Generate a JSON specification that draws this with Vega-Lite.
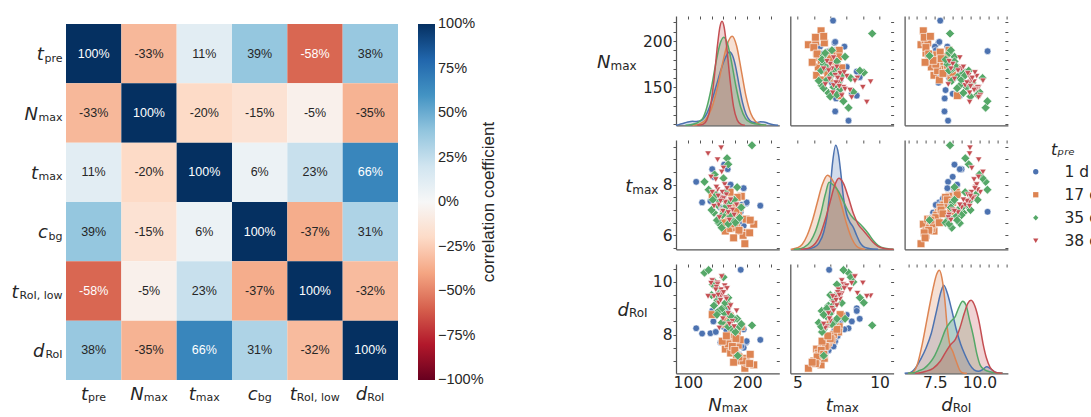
{
  "$schema": "https://vega.github.io/schema/vega-lite/v6.json",
  "background": "white",
  "padding": {"left": 11, "top": 15, "right": 0, "bottom": 0},
  "config": {
    "view": {"stroke": null},
    "locale": {"number": {"decimal": ".", "thousands": ",", "grouping": [3], "currency": ["$", ""], "minus": "-"}},
    "axis": {"grid": false, "labelColor": "#262626", "titleColor": "#262626", "domainColor": "#555555", "tickColor": "#555555", "domainWidth": 1.25, "tickWidth": 1, "labelFont": "DejaVu Sans", "titleFont": "DejaVu Sans", "titleFontWeight": "normal", "labelFlush": false, "labelOverlap": false}
  },
  "datasets": {
    "corr": [
      {"row": "tpre", "col": "tpre", "r": 1}, {"row": "tpre", "col": "Nmax", "r": -0.33}, {"row": "tpre", "col": "tmax", "r": 0.11}, {"row": "tpre", "col": "cbg", "r": 0.39}, {"row": "tpre", "col": "tRoIlow", "r": -0.58}, {"row": "tpre", "col": "dRoI", "r": 0.38},
      {"row": "Nmax", "col": "tpre", "r": -0.33}, {"row": "Nmax", "col": "Nmax", "r": 1}, {"row": "Nmax", "col": "tmax", "r": -0.2}, {"row": "Nmax", "col": "cbg", "r": -0.15}, {"row": "Nmax", "col": "tRoIlow", "r": -0.05}, {"row": "Nmax", "col": "dRoI", "r": -0.35},
      {"row": "tmax", "col": "tpre", "r": 0.11}, {"row": "tmax", "col": "Nmax", "r": -0.2}, {"row": "tmax", "col": "tmax", "r": 1}, {"row": "tmax", "col": "cbg", "r": 0.06}, {"row": "tmax", "col": "tRoIlow", "r": 0.23}, {"row": "tmax", "col": "dRoI", "r": 0.66},
      {"row": "cbg", "col": "tpre", "r": 0.39}, {"row": "cbg", "col": "Nmax", "r": -0.15}, {"row": "cbg", "col": "tmax", "r": 0.06}, {"row": "cbg", "col": "cbg", "r": 1}, {"row": "cbg", "col": "tRoIlow", "r": -0.37}, {"row": "cbg", "col": "dRoI", "r": 0.31},
      {"row": "tRoIlow", "col": "tpre", "r": -0.58}, {"row": "tRoIlow", "col": "Nmax", "r": -0.05}, {"row": "tRoIlow", "col": "tmax", "r": 0.23}, {"row": "tRoIlow", "col": "cbg", "r": -0.37}, {"row": "tRoIlow", "col": "tRoIlow", "r": 1}, {"row": "tRoIlow", "col": "dRoI", "r": -0.32},
      {"row": "dRoI", "col": "tpre", "r": 0.38}, {"row": "dRoI", "col": "Nmax", "r": -0.35}, {"row": "dRoI", "col": "tmax", "r": 0.66}, {"row": "dRoI", "col": "cbg", "r": 0.31}, {"row": "dRoI", "col": "tRoIlow", "r": -0.32}, {"row": "dRoI", "col": "dRoI", "r": 1}
    ],
    "pts": [
      {"g": "1 d", "N": 222, "t": 7.17, "d": 7.8}, {"g": "1 d", "N": 114, "t": 8.11, "d": 8.24}, {"g": "1 d", "N": 189, "t": 6.93, "d": 10.46}, {"g": "1 d", "N": 198, "t": 7.26, "d": 7.7}, {"g": "1 d", "N": 199, "t": 7.3, "d": 7.75}, {"g": "1 d", "N": 194, "t": 7.86, "d": 8.2}, {"g": "1 d", "N": 194, "t": 6.38, "d": 7.5}, {"g": "1 d", "N": 167, "t": 8.61, "d": 9.0}, {"g": "1 d", "N": 161, "t": 8.79, "d": 8.6}, {"g": "1 d", "N": 143, "t": 8.31, "d": 8.5}, {"g": "1 d", "N": 141, "t": 8.61, "d": 8.9}, {"g": "1 d", "N": 172, "t": 7.2, "d": 8.0}, {"g": "1 d", "N": 175, "t": 7.4, "d": 8.1}, {"g": "1 d", "N": 168, "t": 7.3, "d": 7.9}, {"g": "1 d", "N": 180, "t": 7.1, "d": 7.85}, {"g": "1 d", "N": 160, "t": 7.5, "d": 8.3}, {"g": "1 d", "N": 124, "t": 7.3, "d": 8.04}, {"g": "1 d", "N": 138, "t": 7.35, "d": 8.05}, {"g": "1 d", "N": 185, "t": 7.15, "d": 7.6}, {"g": "1 d", "N": 176, "t": 6.9, "d": 7.4}, {"g": "1 d", "N": 165, "t": 7.25, "d": 8.15}, {"g": "1 d", "N": 158, "t": 7.6, "d": 8.45}, {"g": "1 d", "N": 183, "t": 7.45, "d": 7.95}, {"g": "1 d", "N": 170, "t": 7.8, "d": 8.6}, {"g": "1 d", "N": 178, "t": 6.7, "d": 7.3}, {"g": "1 d", "N": 155, "t": 7.1, "d": 7.7}, {"g": "1 d", "N": 190, "t": 7.2, "d": 7.55}, {"g": "1 d", "N": 147, "t": 7.45, "d": 8.1}, {"g": "1 d", "N": 163, "t": 6.85, "d": 7.8}, {"g": "1 d", "N": 186, "t": 6.5, "d": 7.25}, {"g": "1 d", "N": 172, "t": 8.0, "d": 8.75},
      {"g": "17 d", "N": 211, "t": 6.44, "d": 6.85}, {"g": "17 d", "N": 196, "t": 5.67, "d": 6.72}, {"g": "17 d", "N": 199, "t": 6.11, "d": 6.95}, {"g": "17 d", "N": 198, "t": 6.64, "d": 7.1}, {"g": "17 d", "N": 187, "t": 6.17, "d": 7.0}, {"g": "17 d", "N": 190, "t": 7.54, "d": 8.3}, {"g": "17 d", "N": 183, "t": 7.5, "d": 8.1}, {"g": "17 d", "N": 163, "t": 6.17, "d": 7.45}, {"g": "17 d", "N": 172, "t": 6.27, "d": 7.3}, {"g": "17 d", "N": 180, "t": 6.5, "d": 7.5}, {"g": "17 d", "N": 176, "t": 6.9, "d": 7.7}, {"g": "17 d", "N": 185, "t": 6.8, "d": 7.6}, {"g": "17 d", "N": 170, "t": 7.0, "d": 7.9}, {"g": "17 d", "N": 178, "t": 7.2, "d": 8.0}, {"g": "17 d", "N": 168, "t": 6.6, "d": 7.65}, {"g": "17 d", "N": 182, "t": 6.3, "d": 7.2}, {"g": "17 d", "N": 174, "t": 7.4, "d": 8.2}, {"g": "17 d", "N": 188, "t": 7.1, "d": 7.8}, {"g": "17 d", "N": 160, "t": 6.95, "d": 8.4}, {"g": "17 d", "N": 193, "t": 6.0, "d": 7.0}, {"g": "17 d", "N": 175, "t": 6.7, "d": 7.55}, {"g": "17 d", "N": 166, "t": 7.3, "d": 8.5}, {"g": "17 d", "N": 179, "t": 6.45, "d": 7.4}, {"g": "17 d", "N": 186, "t": 6.2, "d": 7.15}, {"g": "17 d", "N": 171, "t": 7.7, "d": 8.7}, {"g": "17 d", "N": 204, "t": 6.1, "d": 6.9}, {"g": "17 d", "N": 158, "t": 6.5, "d": 7.75}, {"g": "17 d", "N": 181, "t": 7.0, "d": 7.85}, {"g": "17 d", "N": 177, "t": 5.9, "d": 6.95}, {"g": "17 d", "N": 165, "t": 6.85, "d": 7.95}, {"g": "17 d", "N": 141, "t": 7.6, "d": 8.76}, {"g": "17 d", "N": 205, "t": 6.6, "d": 7.25},
      {"g": "35 d", "N": 208, "t": 9.55, "d": 8.35}, {"g": "35 d", "N": 128, "t": 8.11, "d": 10.35}, {"g": "35 d", "N": 135, "t": 7.8, "d": 10.45}, {"g": "35 d", "N": 166, "t": 9.04, "d": 9.21}, {"g": "35 d", "N": 168, "t": 8.8, "d": 9.4}, {"g": "35 d", "N": 160, "t": 8.25, "d": 10.18}, {"g": "35 d", "N": 152, "t": 6.48, "d": 8.9}, {"g": "35 d", "N": 144, "t": 6.89, "d": 9.1}, {"g": "35 d", "N": 183, "t": 7.9, "d": 8.6}, {"g": "35 d", "N": 184, "t": 6.6, "d": 7.2}, {"g": "35 d", "N": 187, "t": 6.69, "d": 8.3}, {"g": "35 d", "N": 150, "t": 7.2, "d": 9.3}, {"g": "35 d", "N": 155, "t": 7.5, "d": 9.6}, {"g": "35 d", "N": 162, "t": 7.0, "d": 8.8}, {"g": "35 d", "N": 170, "t": 7.3, "d": 8.5}, {"g": "35 d", "N": 158, "t": 6.8, "d": 9.0}, {"g": "35 d", "N": 148, "t": 7.6, "d": 9.8}, {"g": "35 d", "N": 175, "t": 6.6, "d": 8.2}, {"g": "35 d", "N": 165, "t": 7.15, "d": 9.1}, {"g": "35 d", "N": 140, "t": 7.0, "d": 9.5}, {"g": "35 d", "N": 178, "t": 7.4, "d": 8.6}, {"g": "35 d", "N": 157, "t": 6.3, "d": 8.45}, {"g": "35 d", "N": 145, "t": 8.4, "d": 10.0}, {"g": "35 d", "N": 172, "t": 6.75, "d": 8.7}, {"g": "35 d", "N": 153, "t": 7.35, "d": 9.45}, {"g": "35 d", "N": 180, "t": 6.5, "d": 8.1}, {"g": "35 d", "N": 163, "t": 7.7, "d": 9.2}, {"g": "35 d", "N": 149, "t": 6.6, "d": 8.75}, {"g": "35 d", "N": 190, "t": 7.1, "d": 8.4}, {"g": "35 d", "N": 168, "t": 6.45, "d": 8.3}, {"g": "35 d", "N": 142, "t": 7.4, "d": 9.9},
      {"g": "38 d", "N": 156, "t": 9.45, "d": 9.47}, {"g": "38 d", "N": 134, "t": 9.22, "d": 9.45}, {"g": "38 d", "N": 150, "t": 8.98, "d": 9.96}, {"g": "38 d", "N": 160, "t": 8.65, "d": 9.57}, {"g": "38 d", "N": 141, "t": 7.7, "d": 10.05}, {"g": "38 d", "N": 150, "t": 7.8, "d": 9.9}, {"g": "38 d", "N": 156, "t": 7.5, "d": 9.7}, {"g": "38 d", "N": 163, "t": 7.3, "d": 9.4}, {"g": "38 d", "N": 148, "t": 7.9, "d": 9.8}, {"g": "38 d", "N": 170, "t": 7.1, "d": 9.0}, {"g": "38 d", "N": 158, "t": 7.7, "d": 9.55}, {"g": "38 d", "N": 152, "t": 7.2, "d": 9.2}, {"g": "38 d", "N": 165, "t": 7.6, "d": 9.35}, {"g": "38 d", "N": 175, "t": 7.0, "d": 8.5}, {"g": "38 d", "N": 160, "t": 7.45, "d": 9.6}, {"g": "38 d", "N": 147, "t": 8.2, "d": 9.7}, {"g": "38 d", "N": 168, "t": 6.9, "d": 8.8}, {"g": "38 d", "N": 162, "t": 8.0, "d": 9.85}, {"g": "38 d", "N": 155, "t": 7.35, "d": 9.3}, {"g": "38 d", "N": 178, "t": 6.8, "d": 8.3}, {"g": "38 d", "N": 153, "t": 6.7, "d": 8.25}, {"g": "38 d", "N": 172, "t": 7.4, "d": 9.1}, {"g": "38 d", "N": 144, "t": 7.15, "d": 9.45}, {"g": "38 d", "N": 159, "t": 6.95, "d": 8.6}, {"g": "38 d", "N": 166, "t": 7.85, "d": 9.75}, {"g": "38 d", "N": 151, "t": 7.55, "d": 9.5}, {"g": "38 d", "N": 182, "t": 7.2, "d": 8.9}, {"g": "38 d", "N": 139, "t": 8.3, "d": 9.95}, {"g": "38 d", "N": 157, "t": 8.5, "d": 10.2}, {"g": "38 d", "N": 170, "t": 6.6, "d": 8.4}
    ],
    "kde": [
      {"v": "N", "g": "1 d", "x": 80, "h": 0}, {"v": "N", "g": "1 d", "x": 82, "h": 0.3}, {"v": "N", "g": "1 d", "x": 90, "h": 1.5}, {"v": "N", "g": "1 d", "x": 100, "h": 3.3}, {"v": "N", "g": "1 d", "x": 108, "h": 4.0}, {"v": "N", "g": "1 d", "x": 114, "h": 3.8}, {"v": "N", "g": "1 d", "x": 120, "h": 4.2}, {"v": "N", "g": "1 d", "x": 126, "h": 6.5}, {"v": "N", "g": "1 d", "x": 132, "h": 12}, {"v": "N", "g": "1 d", "x": 140, "h": 24}, {"v": "N", "g": "1 d", "x": 148, "h": 40}, {"v": "N", "g": "1 d", "x": 156, "h": 56}, {"v": "N", "g": "1 d", "x": 162, "h": 66}, {"v": "N", "g": "1 d", "x": 166, "h": 71}, {"v": "N", "g": "1 d", "x": 170, "h": 73.6}, {"v": "N", "g": "1 d", "x": 175, "h": 70}, {"v": "N", "g": "1 d", "x": 180, "h": 60}, {"v": "N", "g": "1 d", "x": 186, "h": 41}, {"v": "N", "g": "1 d", "x": 192, "h": 23}, {"v": "N", "g": "1 d", "x": 198, "h": 11}, {"v": "N", "g": "1 d", "x": 204, "h": 5}, {"v": "N", "g": "1 d", "x": 210, "h": 3}, {"v": "N", "g": "1 d", "x": 216, "h": 2.8}, {"v": "N", "g": "1 d", "x": 222, "h": 3.5}, {"v": "N", "g": "1 d", "x": 228, "h": 3.4}, {"v": "N", "g": "1 d", "x": 236, "h": 1.8}, {"v": "N", "g": "1 d", "x": 244, "h": 0.6}, {"v": "N", "g": "1 d", "x": 252, "h": 0},
      {"v": "N", "g": "17 d", "x": 108, "h": 0}, {"v": "N", "g": "17 d", "x": 114, "h": 0.5}, {"v": "N", "g": "17 d", "x": 120, "h": 1.4}, {"v": "N", "g": "17 d", "x": 130, "h": 5.7}, {"v": "N", "g": "17 d", "x": 140, "h": 17}, {"v": "N", "g": "17 d", "x": 150, "h": 38.5}, {"v": "N", "g": "17 d", "x": 158, "h": 60.8}, {"v": "N", "g": "17 d", "x": 166, "h": 80.3}, {"v": "N", "g": "17 d", "x": 174.6, "h": 89}, {"v": "N", "g": "17 d", "x": 182, "h": 79.6}, {"v": "N", "g": "17 d", "x": 190, "h": 54.7}, {"v": "N", "g": "17 d", "x": 198, "h": 28.9}, {"v": "N", "g": "17 d", "x": 206, "h": 11.7}, {"v": "N", "g": "17 d", "x": 214, "h": 3.7}, {"v": "N", "g": "17 d", "x": 222, "h": 0.9}, {"v": "N", "g": "17 d", "x": 232, "h": 0},
      {"v": "N", "g": "35 d", "x": 96, "h": 0}, {"v": "N", "g": "35 d", "x": 104, "h": 0.6}, {"v": "N", "g": "35 d", "x": 112, "h": 1.5}, {"v": "N", "g": "35 d", "x": 120, "h": 4}, {"v": "N", "g": "35 d", "x": 126, "h": 8}, {"v": "N", "g": "35 d", "x": 132, "h": 18}, {"v": "N", "g": "35 d", "x": 140, "h": 38.8}, {"v": "N", "g": "35 d", "x": 148, "h": 64.9}, {"v": "N", "g": "35 d", "x": 154, "h": 81}, {"v": "N", "g": "35 d", "x": 160.5, "h": 88}, {"v": "N", "g": "35 d", "x": 167, "h": 81}, {"v": "N", "g": "35 d", "x": 173, "h": 64.9}, {"v": "N", "g": "35 d", "x": 181, "h": 38.8}, {"v": "N", "g": "35 d", "x": 189, "h": 18}, {"v": "N", "g": "35 d", "x": 197, "h": 7}, {"v": "N", "g": "35 d", "x": 205, "h": 3}, {"v": "N", "g": "35 d", "x": 213, "h": 1.6}, {"v": "N", "g": "35 d", "x": 221, "h": 0.8}, {"v": "N", "g": "35 d", "x": 232, "h": 0},
      {"v": "N", "g": "38 d", "x": 116, "h": 0}, {"v": "N", "g": "38 d", "x": 120, "h": 0.2}, {"v": "N", "g": "38 d", "x": 126, "h": 1.2}, {"v": "N", "g": "38 d", "x": 132, "h": 5.4}, {"v": "N", "g": "38 d", "x": 138, "h": 18.5}, {"v": "N", "g": "38 d", "x": 144, "h": 45.5}, {"v": "N", "g": "38 d", "x": 150, "h": 80.6}, {"v": "N", "g": "38 d", "x": 154, "h": 98.4}, {"v": "N", "g": "38 d", "x": 157.5, "h": 104}, {"v": "N", "g": "38 d", "x": 161, "h": 98.4}, {"v": "N", "g": "38 d", "x": 165, "h": 80.6}, {"v": "N", "g": "38 d", "x": 171, "h": 45.5}, {"v": "N", "g": "38 d", "x": 177, "h": 18.5}, {"v": "N", "g": "38 d", "x": 183, "h": 5.4}, {"v": "N", "g": "38 d", "x": 189, "h": 1.2}, {"v": "N", "g": "38 d", "x": 196, "h": 0},
      {"v": "t", "g": "1 d", "x": 5.3, "h": 0}, {"v": "t", "g": "1 d", "x": 5.6, "h": 0.3}, {"v": "t", "g": "1 d", "x": 6.0, "h": 2}, {"v": "t", "g": "1 d", "x": 6.3, "h": 6}, {"v": "t", "g": "1 d", "x": 6.6, "h": 17}, {"v": "t", "g": "1 d", "x": 6.8, "h": 33}, {"v": "t", "g": "1 d", "x": 7.0, "h": 62}, {"v": "t", "g": "1 d", "x": 7.15, "h": 88}, {"v": "t", "g": "1 d", "x": 7.33, "h": 104}, {"v": "t", "g": "1 d", "x": 7.5, "h": 95}, {"v": "t", "g": "1 d", "x": 7.65, "h": 75}, {"v": "t", "g": "1 d", "x": 7.8, "h": 52}, {"v": "t", "g": "1 d", "x": 8.0, "h": 35}, {"v": "t", "g": "1 d", "x": 8.2, "h": 27}, {"v": "t", "g": "1 d", "x": 8.4, "h": 22}, {"v": "t", "g": "1 d", "x": 8.6, "h": 14}, {"v": "t", "g": "1 d", "x": 8.8, "h": 7}, {"v": "t", "g": "1 d", "x": 9.0, "h": 3}, {"v": "t", "g": "1 d", "x": 9.3, "h": 1}, {"v": "t", "g": "1 d", "x": 9.6, "h": 0.2}, {"v": "t", "g": "1 d", "x": 9.9, "h": 0},
      {"v": "t", "g": "17 d", "x": 4.6, "h": 0}, {"v": "t", "g": "17 d", "x": 4.7, "h": 0.3}, {"v": "t", "g": "17 d", "x": 5.0, "h": 1.5}, {"v": "t", "g": "17 d", "x": 5.3, "h": 5}, {"v": "t", "g": "17 d", "x": 5.6, "h": 14}, {"v": "t", "g": "17 d", "x": 5.9, "h": 28}, {"v": "t", "g": "17 d", "x": 6.2, "h": 46}, {"v": "t", "g": "17 d", "x": 6.5, "h": 64}, {"v": "t", "g": "17 d", "x": 6.83, "h": 74}, {"v": "t", "g": "17 d", "x": 7.1, "h": 70}, {"v": "t", "g": "17 d", "x": 7.4, "h": 60}, {"v": "t", "g": "17 d", "x": 7.7, "h": 43}, {"v": "t", "g": "17 d", "x": 8.0, "h": 25}, {"v": "t", "g": "17 d", "x": 8.3, "h": 11}, {"v": "t", "g": "17 d", "x": 8.6, "h": 3}, {"v": "t", "g": "17 d", "x": 8.9, "h": 0.5}, {"v": "t", "g": "17 d", "x": 9.1, "h": 0},
      {"v": "t", "g": "35 d", "x": 4.8, "h": 0}, {"v": "t", "g": "35 d", "x": 5.0, "h": 0.3}, {"v": "t", "g": "35 d", "x": 5.4, "h": 2}, {"v": "t", "g": "35 d", "x": 5.8, "h": 8}, {"v": "t", "g": "35 d", "x": 6.1, "h": 18}, {"v": "t", "g": "35 d", "x": 6.4, "h": 34}, {"v": "t", "g": "35 d", "x": 6.7, "h": 55}, {"v": "t", "g": "35 d", "x": 6.93, "h": 67}, {"v": "t", "g": "35 d", "x": 7.2, "h": 64}, {"v": "t", "g": "35 d", "x": 7.5, "h": 58}, {"v": "t", "g": "35 d", "x": 7.8, "h": 48}, {"v": "t", "g": "35 d", "x": 8.1, "h": 38}, {"v": "t", "g": "35 d", "x": 8.4, "h": 31}, {"v": "t", "g": "35 d", "x": 8.7, "h": 27}, {"v": "t", "g": "35 d", "x": 9.0, "h": 22}, {"v": "t", "g": "35 d", "x": 9.3, "h": 16}, {"v": "t", "g": "35 d", "x": 9.6, "h": 9}, {"v": "t", "g": "35 d", "x": 9.9, "h": 4}, {"v": "t", "g": "35 d", "x": 10.3, "h": 1}, {"v": "t", "g": "35 d", "x": 10.7, "h": 0.2}, {"v": "t", "g": "35 d", "x": 10.85, "h": 0},
      {"v": "t", "g": "38 d", "x": 5.2, "h": 0}, {"v": "t", "g": "38 d", "x": 5.4, "h": 0.3}, {"v": "t", "g": "38 d", "x": 5.8, "h": 2}, {"v": "t", "g": "38 d", "x": 6.1, "h": 6}, {"v": "t", "g": "38 d", "x": 6.4, "h": 15}, {"v": "t", "g": "38 d", "x": 6.7, "h": 30}, {"v": "t", "g": "38 d", "x": 7.0, "h": 48}, {"v": "t", "g": "38 d", "x": 7.25, "h": 63}, {"v": "t", "g": "38 d", "x": 7.52, "h": 71}, {"v": "t", "g": "38 d", "x": 7.8, "h": 66}, {"v": "t", "g": "38 d", "x": 8.1, "h": 52}, {"v": "t", "g": "38 d", "x": 8.4, "h": 36}, {"v": "t", "g": "38 d", "x": 8.7, "h": 25}, {"v": "t", "g": "38 d", "x": 9.0, "h": 19}, {"v": "t", "g": "38 d", "x": 9.3, "h": 13}, {"v": "t", "g": "38 d", "x": 9.6, "h": 7}, {"v": "t", "g": "38 d", "x": 9.9, "h": 3}, {"v": "t", "g": "38 d", "x": 10.3, "h": 0.8}, {"v": "t", "g": "38 d", "x": 10.7, "h": 0.1}, {"v": "t", "g": "38 d", "x": 10.85, "h": 0},
      {"v": "d", "g": "1 d", "x": 5.8, "h": 0}, {"v": "d", "g": "1 d", "x": 6.1, "h": 0.5}, {"v": "d", "g": "1 d", "x": 6.4, "h": 5}, {"v": "d", "g": "1 d", "x": 6.7, "h": 14}, {"v": "d", "g": "1 d", "x": 7.0, "h": 25}, {"v": "d", "g": "1 d", "x": 7.3, "h": 40}, {"v": "d", "g": "1 d", "x": 7.6, "h": 63}, {"v": "d", "g": "1 d", "x": 7.85, "h": 82}, {"v": "d", "g": "1 d", "x": 8.0, "h": 88}, {"v": "d", "g": "1 d", "x": 8.2, "h": 80}, {"v": "d", "g": "1 d", "x": 8.45, "h": 63}, {"v": "d", "g": "1 d", "x": 8.7, "h": 44}, {"v": "d", "g": "1 d", "x": 8.95, "h": 29}, {"v": "d", "g": "1 d", "x": 9.2, "h": 18}, {"v": "d", "g": "1 d", "x": 9.45, "h": 9}, {"v": "d", "g": "1 d", "x": 9.7, "h": 3.5}, {"v": "d", "g": "1 d", "x": 9.95, "h": 2}, {"v": "d", "g": "1 d", "x": 10.2, "h": 4}, {"v": "d", "g": "1 d", "x": 10.4, "h": 6.5}, {"v": "d", "g": "1 d", "x": 10.6, "h": 5}, {"v": "d", "g": "1 d", "x": 10.85, "h": 1.5}, {"v": "d", "g": "1 d", "x": 11.1, "h": 0.3}, {"v": "d", "g": "1 d", "x": 11.3, "h": 0},
      {"v": "d", "g": "17 d", "x": 6.0, "h": 0}, {"v": "d", "g": "17 d", "x": 6.2, "h": 0.3}, {"v": "d", "g": "17 d", "x": 6.5, "h": 8}, {"v": "d", "g": "17 d", "x": 6.8, "h": 30}, {"v": "d", "g": "17 d", "x": 7.1, "h": 58}, {"v": "d", "g": "17 d", "x": 7.4, "h": 85}, {"v": "d", "g": "17 d", "x": 7.6, "h": 99}, {"v": "d", "g": "17 d", "x": 7.75, "h": 103}, {"v": "d", "g": "17 d", "x": 7.9, "h": 95}, {"v": "d", "g": "17 d", "x": 8.05, "h": 75}, {"v": "d", "g": "17 d", "x": 8.2, "h": 45}, {"v": "d", "g": "17 d", "x": 8.35, "h": 28}, {"v": "d", "g": "17 d", "x": 8.5, "h": 22}, {"v": "d", "g": "17 d", "x": 8.7, "h": 12}, {"v": "d", "g": "17 d", "x": 8.9, "h": 3}, {"v": "d", "g": "17 d", "x": 9.1, "h": 0.3}, {"v": "d", "g": "17 d", "x": 9.3, "h": 0},
      {"v": "d", "g": "35 d", "x": 6.0, "h": 0}, {"v": "d", "g": "35 d", "x": 6.3, "h": 0.5}, {"v": "d", "g": "35 d", "x": 6.6, "h": 2.5}, {"v": "d", "g": "35 d", "x": 6.9, "h": 5}, {"v": "d", "g": "35 d", "x": 7.2, "h": 10}, {"v": "d", "g": "35 d", "x": 7.5, "h": 18}, {"v": "d", "g": "35 d", "x": 7.8, "h": 30}, {"v": "d", "g": "35 d", "x": 8.1, "h": 44}, {"v": "d", "g": "35 d", "x": 8.4, "h": 52}, {"v": "d", "g": "35 d", "x": 8.65, "h": 57}, {"v": "d", "g": "35 d", "x": 8.85, "h": 66}, {"v": "d", "g": "35 d", "x": 9.06, "h": 72}, {"v": "d", "g": "35 d", "x": 9.25, "h": 68}, {"v": "d", "g": "35 d", "x": 9.45, "h": 53}, {"v": "d", "g": "35 d", "x": 9.65, "h": 38}, {"v": "d", "g": "35 d", "x": 9.85, "h": 20}, {"v": "d", "g": "35 d", "x": 10.05, "h": 8}, {"v": "d", "g": "35 d", "x": 10.3, "h": 3.5}, {"v": "d", "g": "35 d", "x": 10.6, "h": 1.5}, {"v": "d", "g": "35 d", "x": 11.0, "h": 0.3}, {"v": "d", "g": "35 d", "x": 11.3, "h": 0},
      {"v": "d", "g": "38 d", "x": 6.4, "h": 0}, {"v": "d", "g": "38 d", "x": 6.6, "h": 0.3}, {"v": "d", "g": "38 d", "x": 7.0, "h": 2}, {"v": "d", "g": "38 d", "x": 7.4, "h": 5}, {"v": "d", "g": "38 d", "x": 7.8, "h": 12}, {"v": "d", "g": "38 d", "x": 8.1, "h": 21}, {"v": "d", "g": "38 d", "x": 8.4, "h": 29}, {"v": "d", "g": "38 d", "x": 8.65, "h": 34}, {"v": "d", "g": "38 d", "x": 8.9, "h": 45}, {"v": "d", "g": "38 d", "x": 9.15, "h": 60}, {"v": "d", "g": "38 d", "x": 9.35, "h": 70}, {"v": "d", "g": "38 d", "x": 9.53, "h": 73}, {"v": "d", "g": "38 d", "x": 9.75, "h": 67}, {"v": "d", "g": "38 d", "x": 10.0, "h": 50}, {"v": "d", "g": "38 d", "x": 10.2, "h": 30}, {"v": "d", "g": "38 d", "x": 10.4, "h": 15}, {"v": "d", "g": "38 d", "x": 10.6, "h": 6}, {"v": "d", "g": "38 d", "x": 10.85, "h": 1.5}, {"v": "d", "g": "38 d", "x": 11.1, "h": 0.2}, {"v": "d", "g": "38 d", "x": 11.3, "h": 0}
    ]
  },
  "resolve": {"scale": {"fill": "independent"}},
  "spacing": 98,
  "hconcat": [
    {
      "spacing": 0,
      "resolve": {"scale": {"fill": "independent"}},
      "vconcat": [
        {"width": 332, "height": 8, "data": {"values": [{}]}, "mark": {"type": "point", "opacity": 0}, "encoding": {}},
        {
          "width": 332,
          "height": 356,
          "data": {"name": "corr"},
          "layer": [
            {
              "mark": {"type": "rect"},
              "encoding": {
                "x": {"field": "col", "type": "nominal", "sort": ["tpre", "Nmax", "tmax", "cbg", "tRoIlow", "dRoI"], "scale": {"paddingInner": 0, "paddingOuter": 0},
                  "axis": {"orient": "bottom", "title": null, "domain": false, "ticks": false, "labelAngle": 0, "labelOverlap": false,
                    "labelExpr": "{'tpre':'t','Nmax':'N','tmax':'t','cbg':'c','tRoIlow':'t','dRoI':'d'}[datum.value]",
                    "labelFont": "DejaVu Sans", "labelFontStyle": "italic", "labelFontSize": 18, "labelColor": "#262626",
                    "labelAlign": "right", "labelBaseline": "alphabetic", "labelPadding": 19,
                    "labelOffset": {"expr": "{'tpre':-5.6,'Nmax':-5.3,'tmax':-8.5,'cbg':-2,'tRoIlow':-18.2,'dRoI':-3.1}[datum.value]"}}},
                "y": {"field": "row", "type": "nominal", "sort": ["tpre", "Nmax", "tmax", "cbg", "tRoIlow", "dRoI"], "scale": {"paddingInner": 0, "paddingOuter": 0},
                  "axis": {"orient": "left", "title": null, "domain": false, "ticks": false, "labelOverlap": false,
                    "labelExpr": "{'tpre':'t','Nmax':'N','tmax':'t','cbg':'c','tRoIlow':'t','dRoI':'d'}[datum.value]",
                    "labelFont": "DejaVu Sans", "labelFontStyle": "italic", "labelFontSize": 18, "labelColor": "#262626",
                    "labelAlign": "right", "labelBaseline": "alphabetic", "labelOffset": 6.5,
                    "labelPadding": {"expr": "{'tpre':22.8,'Nmax':28.5,'tmax':28.5,'cbg':18.5,'tRoIlow':47.9,'dRoI':22.1}[datum.value]"}}},
                "fill": {"field": "r", "type": "quantitative",
                  "scale": {"type": "linear", "domain": [-1, -0.8, -0.6, -0.4, -0.2, 0, 0.2, 0.4, 0.6, 0.8, 1],
                    "range": ["#67001f", "#b2182b", "#d6604d", "#f4a582", "#fddbc7", "#f7f7f7", "#d1e5f0", "#92c5de", "#4393c3", "#2166ac", "#053061"], "interpolate": "rgb"},
                  "legend": {"title": "correlation coefficient", "orient": "right", "offset": 20, "direction": "vertical",
                    "gradientLength": 356, "gradientThickness": 17, "gradientStrokeWidth": 0,
                    "values": [-1, -0.75, -0.5, -0.25, 0, 0.25, 0.5, 0.75, 1], "format": ".0%",
                    "labelExpr": "replace(datum.label, '-', '\u2212')",
                    "labelFont": "Liberation Sans", "labelFontSize": 14.5, "labelColor": "#262626", "labelOffset": 3, "labelOverlap": false,
                    "titleOrient": "right", "titleAnchor": "middle", "titleAlign": "center",
                    "titleFont": "Liberation Sans", "titleFontSize": 17, "titleFontWeight": "normal", "titleColor": "#262626", "titlePadding": 14,
                    "encoding": {"labels": {"baseline": {"value": "middle"}}, "title": {"angle": {"value": 270}}}}}
              }
            },
            {
              "mark": {"type": "text", "font": "Liberation Sans", "fontSize": 12.5},
              "encoding": {
                "x": {"field": "col", "type": "nominal", "sort": ["tpre", "Nmax", "tmax", "cbg", "tRoIlow", "dRoI"],
                  "axis": {"orient": "bottom", "title": null, "domain": false, "ticks": false, "labelAngle": 0, "labelOverlap": false,
                    "labelExpr": "{'tpre':'pre','Nmax':'max','tmax':'max','cbg':'bg','tRoIlow':'RoI, low','dRoI':'RoI'}[datum.value]",
                    "labelFont": "DejaVu Sans", "labelFontSize": 11, "labelColor": "#262626",
                    "labelAlign": "left", "labelBaseline": "alphabetic", "labelPadding": 20,
                    "labelOffset": {"expr": "{'tpre':-5.6,'Nmax':-5.3,'tmax':-8.5,'cbg':-2,'tRoIlow':-18.2,'dRoI':-3.1}[datum.value]"}}},
                "y": {"field": "row", "type": "nominal", "sort": ["tpre", "Nmax", "tmax", "cbg", "tRoIlow", "dRoI"],
                  "axis": {"orient": "left", "title": null, "domain": false, "ticks": false, "labelOverlap": false,
                    "labelExpr": "{'tpre':'pre','Nmax':'max','tmax':'max','cbg':'bg','tRoIlow':'RoI, low','dRoI':'RoI'}[datum.value]",
                    "labelFont": "DejaVu Sans", "labelFontSize": 11, "labelColor": "#262626",
                    "labelAlign": "right", "labelBaseline": "alphabetic", "labelOffset": 8, "labelPadding": 4}},
                "text": {"field": "r", "type": "quantitative", "format": ".0%"},
                "color": {"condition": {"test": "abs(datum.r) > 0.5", "value": "#ffffff"}, "value": "#262626"}
              }
            }
          ],
          "resolve": {"axis": {"x": "independent", "y": "independent"}}
        }
      ]
    },
    {
      "columns": 3,
      "spacing": {"row": 14, "column": 10.3},
      "bounds": "flush",
      "concat": [
        {
          "width": 103.3, "height": 109.3,
          "layer": [
            {"data": {"name": "kde"}, "transform": [{"filter": "datum.v == 'N'"}],
             "mark": {"type": "area", "fillOpacity": 0.25, "interpolate": "monotone"},
             "encoding": {
               "x": {"field": "x", "type": "quantitative", "scale": {"domain": [80, 254], "nice": false, "zero": false}, "axis": {"orient": "bottom", "title": null, "labels": false, "ticks": false, "domain": true}},
               "y": {"field": "h", "type": "quantitative", "stack": null, "scale": {"domain": [0, 109.3], "nice": false}, "axis": null},
               "fill": {"field": "g", "type": "nominal", "scale": {"domain": ["38 d", "35 d", "17 d", "1 d"], "range": ["#c44e52", "#55a868", "#dd8452", "#4c72b0"]}, "legend": null}}},
            {"data": {"name": "kde"}, "transform": [{"filter": "datum.v == 'N'"}],
             "mark": {"type": "line", "strokeWidth": 1.5, "interpolate": "monotone"},
             "encoding": {
               "x": {"field": "x", "type": "quantitative", "scale": {"domain": [80, 254], "nice": false, "zero": false}, "axis": null},
               "y": {"field": "h", "type": "quantitative", "scale": {"domain": [0, 109.3], "nice": false}, "axis": null},
               "stroke": {"field": "g", "type": "nominal", "scale": {"domain": ["38 d", "35 d", "17 d", "1 d"], "range": ["#c44e52", "#55a868", "#dd8452", "#4c72b0"]}, "legend": null}}},
            {"data": {"name": "pts"}, "mark": {"type": "point", "opacity": 0},
             "encoding": {
               "x": {"field": "N", "type": "quantitative", "scale": {"domain": [80, 254], "nice": false, "zero": false}, "axis": {"orient": "top", "title": null, "labels": false, "domain": false, "ticks": true, "tickSize": -3, "values": [100, 120, 140, 160, 180, 200, 220, 240]}},
               "y": {"field": "N", "type": "quantitative", "scale": {"domain": [109, 227], "nice": false, "zero": false}, "axis": {"orient": "left", "domain": true, "ticks": true, "tickSize": 3, "values": [110, 120, 130, 140, 150, 160, 170, 180, 190, 200, 210, 220], "labelExpr": "datum.value % 50 == 0 ? '' + datum.value : ''", "labelFontSize": 15.5, "labelPadding": 1, "labelBaseline": "middle", "title": "N", "titleFontStyle": "italic", "titleFontSize": 18, "titleAngle": 0, "titleAlign": "right", "titleBaseline": "alphabetic", "titleX": -66, "titleY": 51.7}}}},
            {"data": {"name": "pts"}, "mark": {"type": "point", "opacity": 0},
             "encoding": {
               "x": {"field": "N", "type": "quantitative", "scale": {"domain": [80, 254], "nice": false, "zero": false}, "axis": null},
               "y": {"field": "N", "type": "quantitative", "scale": {"domain": [109, 227], "nice": false, "zero": false}, "axis": {"orient": "left", "domain": false, "ticks": false, "labels": false, "title": "max", "titleFontSize": 12, "titleAngle": 0, "titleAlign": "left", "titleBaseline": "alphabetic", "titleX": -66, "titleY": 53.2}}}}
          ],
          "resolve": {"scale": {"y": "independent"}, "axis": {"x": "independent", "y": "independent"}}
        },
        {
          "width": 103.3, "height": 109.3,
          "data": {"name": "pts"},
          "layer": [
            {"mark": {"type": "point", "filled": true, "opacity": 1, "stroke": "white", "strokeWidth": 0.6},
             "encoding": {
               "x": {"field": "t", "type": "quantitative", "scale": {"domain": [4.57, 10.85], "nice": false, "zero": false}, "axis": {"orient": "bottom", "title": null, "labels": false, "ticks": false, "domain": true}},
               "y": {"field": "N", "type": "quantitative", "scale": {"domain": [109, 227], "nice": false, "zero": false}, "axis": {"orient": "left", "title": null, "labels": false, "ticks": false, "domain": true}},
               "color": {"field": "g", "type": "nominal", "scale": {"domain": ["1 d", "17 d", "35 d", "38 d"], "range": ["#4c72b0", "#dd8452", "#55a868", "#c44e52"]},
                 "legend": {"title": "tₚᵣₑ", "orient": "none", "legendX": 962, "legendY": 126, "titleFont": "DejaVu Sans", "titleFontSize": 16, "titleFontWeight": "normal", "titleFontStyle": "italic", "titleColor": "#262626", "titleAnchor": "middle", "titlePadding": 6, "labelFont": "DejaVu Sans", "labelFontSize": 15.5, "labelColor": "#262626", "labelOffset": 21, "symbolSize": 28, "symbolStrokeWidth": 0, "rowPadding": 6}},
               "shape": {"field": "g", "type": "nominal", "scale": {"domain": ["1 d", "17 d", "35 d", "38 d"], "range": ["circle", "square", "diamond", "triangle-down"]},
                 "legend": {"title": "tₚᵣₑ", "orient": "none", "legendX": 962, "legendY": 126, "titleFont": "DejaVu Sans", "titleFontSize": 16, "titleFontWeight": "normal", "titleFontStyle": "italic", "titleColor": "#262626", "titleAnchor": "middle", "titlePadding": 6, "labelFont": "DejaVu Sans", "labelFontSize": 15.5, "labelColor": "#262626", "labelOffset": 21, "symbolSize": 28, "symbolStrokeWidth": 0, "rowPadding": 6}},
               "size": {"field": "g", "type": "nominal", "scale": {"type": "ordinal", "domain": ["38 d", "17 d", "35 d", "1 d"], "range": [42, 60, 80, 45]}, "legend": null}}},
            {"mark": {"type": "point", "opacity": 0},
             "encoding": {
               "x": {"field": "t", "type": "quantitative", "scale": {"domain": [4.57, 10.85], "nice": false, "zero": false}, "axis": {"orient": "top", "title": null, "labels": false, "domain": false, "ticks": true, "tickSize": -3, "values": [5, 6, 7, 8, 9, 10]}},
               "y": {"field": "N", "type": "quantitative", "scale": {"domain": [109, 227], "nice": false, "zero": false}, "axis": {"orient": "right", "title": null, "labels": false, "domain": false, "ticks": true, "tickSize": -3, "values": [110, 120, 130, 140, 150, 160, 170, 180, 190, 200, 210, 220]}}}}
          ],
          "resolve": {"axis": {"x": "independent", "y": "independent"}}
        },
        {
          "width": 103.3, "height": 109.3,
          "data": {"name": "pts"},
          "layer": [
            {"mark": {"type": "point", "filled": true, "opacity": 1, "stroke": "white", "strokeWidth": 0.6},
             "encoding": {
               "x": {"field": "d", "type": "quantitative", "scale": {"domain": [5.8, 11.6], "nice": false, "zero": false}, "axis": {"orient": "bottom", "title": null, "labels": false, "ticks": false, "domain": true}},
               "y": {"field": "N", "type": "quantitative", "scale": {"domain": [109, 227], "nice": false, "zero": false}, "axis": {"orient": "left", "title": null, "labels": false, "ticks": false, "domain": true}},
               "color": {"field": "g", "type": "nominal", "scale": {"domain": ["1 d", "17 d", "35 d", "38 d"], "range": ["#4c72b0", "#dd8452", "#55a868", "#c44e52"]}},
               "shape": {"field": "g", "type": "nominal", "scale": {"domain": ["1 d", "17 d", "35 d", "38 d"], "range": ["circle", "square", "diamond", "triangle-down"]}},
               "size": {"field": "g", "type": "nominal", "scale": {"type": "ordinal", "domain": ["38 d", "17 d", "35 d", "1 d"], "range": [42, 60, 80, 45]}, "legend": null}}},
            {"mark": {"type": "point", "opacity": 0},
             "encoding": {
               "x": {"field": "d", "type": "quantitative", "scale": {"domain": [5.8, 11.6], "nice": false, "zero": false}, "axis": {"orient": "top", "title": null, "labels": false, "domain": false, "ticks": true, "tickSize": -3, "values": [6, 6.5, 7, 7.5, 8, 8.5, 9, 9.5, 10, 10.5, 11, 11.5]}},
               "y": {"field": "N", "type": "quantitative", "scale": {"domain": [109, 227], "nice": false, "zero": false}, "axis": {"orient": "right", "title": null, "labels": false, "domain": false, "ticks": true, "tickSize": -3, "values": [110, 120, 130, 140, 150, 160, 170, 180, 190, 200, 210, 220]}}}}
          ],
          "resolve": {"axis": {"x": "independent", "y": "independent"}}
        },
        {
          "width": 103.3, "height": 109.3,
          "data": {"name": "pts"},
          "layer": [
            {"mark": {"type": "point", "filled": true, "opacity": 1, "stroke": "white", "strokeWidth": 0.6},
             "encoding": {
               "x": {"field": "N", "type": "quantitative", "scale": {"domain": [80, 254], "nice": false, "zero": false}, "axis": {"orient": "bottom", "title": null, "labels": false, "ticks": false, "domain": true}},
               "y": {"field": "t", "type": "quantitative", "scale": {"domain": [5.45, 9.76], "nice": false, "zero": false}, "axis": {"orient": "left", "domain": true, "ticks": true, "tickSize": 3, "values": [5.5, 6, 6.5, 7, 7.5, 8, 8.5, 9, 9.5], "labelExpr": "datum.value % 2 == 0 ? '' + datum.value : ''", "labelFontSize": 15.5, "labelPadding": 1, "labelBaseline": "middle", "title": "t", "titleFontStyle": "italic", "titleFontSize": 18, "titleAngle": 0, "titleAlign": "right", "titleBaseline": "alphabetic", "titleX": -44.3, "titleY": 51.7}},
               "color": {"field": "g", "type": "nominal", "scale": {"domain": ["1 d", "17 d", "35 d", "38 d"], "range": ["#4c72b0", "#dd8452", "#55a868", "#c44e52"]}},
               "shape": {"field": "g", "type": "nominal", "scale": {"domain": ["1 d", "17 d", "35 d", "38 d"], "range": ["circle", "square", "diamond", "triangle-down"]}},
               "size": {"field": "g", "type": "nominal", "scale": {"type": "ordinal", "domain": ["38 d", "17 d", "35 d", "1 d"], "range": [42, 60, 80, 45]}, "legend": null}}},
            {"mark": {"type": "point", "opacity": 0},
             "encoding": {
               "x": {"field": "N", "type": "quantitative", "scale": {"domain": [80, 254], "nice": false, "zero": false}, "axis": {"orient": "top", "title": null, "labels": false, "domain": false, "ticks": true, "tickSize": -3, "values": [100, 120, 140, 160, 180, 200, 220, 240]}},
               "y": {"field": "t", "type": "quantitative", "scale": {"domain": [5.45, 9.76], "nice": false, "zero": false}, "axis": {"orient": "right", "title": null, "labels": false, "domain": false, "ticks": true, "tickSize": -3, "values": [5.5, 6, 6.5, 7, 7.5, 8, 8.5, 9, 9.5]}}}},
            {"mark": {"type": "point", "opacity": 0},
             "encoding": {
               "x": {"field": "N", "type": "quantitative", "scale": {"domain": [80, 254], "nice": false, "zero": false}, "axis": null},
               "y": {"field": "t", "type": "quantitative", "scale": {"domain": [5.45, 9.76], "nice": false, "zero": false}, "axis": {"orient": "left", "domain": false, "ticks": false, "labels": false, "title": "max", "titleFontSize": 12, "titleAngle": 0, "titleAlign": "left", "titleBaseline": "alphabetic", "titleX": -44.3, "titleY": 53.2}}}}
          ],
          "resolve": {"axis": {"x": "independent", "y": "independent"}}
        },
        {
          "width": 103.3, "height": 109.3,
          "data": {"name": "kde"},
          "transform": [{"filter": "datum.v == 't'"}],
          "layer": [
            {"mark": {"type": "area", "fillOpacity": 0.25, "interpolate": "monotone"},
             "encoding": {
               "x": {"field": "x", "type": "quantitative", "scale": {"domain": [4.57, 10.85], "nice": false, "zero": false}, "axis": {"orient": "bottom", "title": null, "labels": false, "ticks": false, "domain": true}},
               "y": {"field": "h", "type": "quantitative", "stack": null, "scale": {"domain": [0, 109.3], "nice": false}, "axis": {"orient": "left", "title": null, "labels": false, "ticks": false, "domain": true}},
               "fill": {"field": "g", "type": "nominal", "scale": {"domain": ["38 d", "35 d", "17 d", "1 d"], "range": ["#c44e52", "#55a868", "#dd8452", "#4c72b0"]}, "legend": null}}},
            {"mark": {"type": "line", "strokeWidth": 1.5, "interpolate": "monotone"},
             "encoding": {
               "x": {"field": "x", "type": "quantitative", "scale": {"domain": [4.57, 10.85], "nice": false, "zero": false}, "axis": null},
               "y": {"field": "h", "type": "quantitative", "scale": {"domain": [0, 109.3], "nice": false}, "axis": null},
               "stroke": {"field": "g", "type": "nominal", "scale": {"domain": ["38 d", "35 d", "17 d", "1 d"], "range": ["#c44e52", "#55a868", "#dd8452", "#4c72b0"]}, "legend": null}}},
            {"mark": {"type": "point", "opacity": 0},
             "encoding": {
               "x": {"field": "x", "type": "quantitative", "scale": {"domain": [4.57, 10.85], "nice": false, "zero": false}, "axis": {"orient": "top", "title": null, "labels": false, "domain": false, "ticks": true, "tickSize": -3, "values": [5, 6, 7, 8, 9, 10]}},
               "y": {"field": "h", "type": "quantitative", "scale": {"domain": [0, 109.3], "nice": false}, "axis": null}}}
          ],
          "resolve": {"axis": {"x": "independent"}}
        },
        {
          "width": 103.3, "height": 109.3,
          "data": {"name": "pts"},
          "layer": [
            {"mark": {"type": "point", "filled": true, "opacity": 1, "stroke": "white", "strokeWidth": 0.6},
             "encoding": {
               "x": {"field": "d", "type": "quantitative", "scale": {"domain": [5.8, 11.6], "nice": false, "zero": false}, "axis": {"orient": "bottom", "title": null, "labels": false, "ticks": false, "domain": true}},
               "y": {"field": "t", "type": "quantitative", "scale": {"domain": [5.45, 9.76], "nice": false, "zero": false}, "axis": {"orient": "left", "title": null, "labels": false, "ticks": false, "domain": true}},
               "color": {"field": "g", "type": "nominal", "scale": {"domain": ["1 d", "17 d", "35 d", "38 d"], "range": ["#4c72b0", "#dd8452", "#55a868", "#c44e52"]}},
               "shape": {"field": "g", "type": "nominal", "scale": {"domain": ["1 d", "17 d", "35 d", "38 d"], "range": ["circle", "square", "diamond", "triangle-down"]}},
               "size": {"field": "g", "type": "nominal", "scale": {"type": "ordinal", "domain": ["38 d", "17 d", "35 d", "1 d"], "range": [42, 60, 80, 45]}, "legend": null}}},
            {"mark": {"type": "point", "opacity": 0},
             "encoding": {
               "x": {"field": "d", "type": "quantitative", "scale": {"domain": [5.8, 11.6], "nice": false, "zero": false}, "axis": {"orient": "top", "title": null, "labels": false, "domain": false, "ticks": true, "tickSize": -3, "values": [6, 6.5, 7, 7.5, 8, 8.5, 9, 9.5, 10, 10.5, 11, 11.5]}},
               "y": {"field": "t", "type": "quantitative", "scale": {"domain": [5.45, 9.76], "nice": false, "zero": false}, "axis": {"orient": "right", "title": null, "labels": false, "domain": false, "ticks": true, "tickSize": -3, "values": [5.5, 6, 6.5, 7, 7.5, 8, 8.5, 9, 9.5]}}}}
          ],
          "resolve": {"axis": {"x": "independent", "y": "independent"}}
        },
        {
          "width": 103.3, "height": 109.3,
          "data": {"name": "pts"},
          "layer": [
            {"mark": {"type": "point", "filled": true, "opacity": 1, "stroke": "white", "strokeWidth": 0.6},
             "encoding": {
               "x": {"field": "N", "type": "quantitative", "scale": {"domain": [80, 254], "nice": false, "zero": false}, "axis": {"orient": "bottom", "domain": true, "ticks": false, "values": [100, 200], "labelExpr": "'' + datum.value", "labelFontSize": 15.5, "labelBaseline": "top", "labelPadding": 2, "title": "N", "titleFontStyle": "italic", "titleFontSize": 18, "titleAlign": "right", "titleBaseline": "alphabetic", "titleX": 45.2, "titleY": 37}},
               "y": {"field": "d", "type": "quantitative", "scale": {"domain": [6.53, 10.68], "nice": false, "zero": false}, "axis": {"orient": "left", "domain": true, "ticks": true, "tickSize": 3, "values": [7, 7.5, 8, 8.5, 9, 9.5, 10, 10.5], "labelExpr": "datum.value % 2 == 0 ? '' + datum.value : ''", "labelFontSize": 15.5, "labelPadding": 1, "labelBaseline": "middle", "title": "d", "titleFontStyle": "italic", "titleFontSize": 18, "titleAngle": 0, "titleAlign": "right", "titleBaseline": "alphabetic", "titleX": -47.6, "titleY": 51}},
               "color": {"field": "g", "type": "nominal", "scale": {"domain": ["1 d", "17 d", "35 d", "38 d"], "range": ["#4c72b0", "#dd8452", "#55a868", "#c44e52"]}},
               "shape": {"field": "g", "type": "nominal", "scale": {"domain": ["1 d", "17 d", "35 d", "38 d"], "range": ["circle", "square", "diamond", "triangle-down"]}},
               "size": {"field": "g", "type": "nominal", "scale": {"type": "ordinal", "domain": ["38 d", "17 d", "35 d", "1 d"], "range": [42, 60, 80, 45]}, "legend": null}}},
            {"mark": {"type": "point", "opacity": 0},
             "encoding": {
               "x": {"field": "N", "type": "quantitative", "scale": {"domain": [80, 254], "nice": false, "zero": false}, "axis": {"orient": "top", "title": null, "labels": false, "domain": false, "ticks": true, "tickSize": -3, "values": [100, 120, 140, 160, 180, 200, 220, 240]}},
               "y": {"field": "d", "type": "quantitative", "scale": {"domain": [6.53, 10.68], "nice": false, "zero": false}, "axis": {"orient": "right", "title": null, "labels": false, "domain": false, "ticks": true, "tickSize": -3, "values": [7, 7.5, 8, 8.5, 9, 9.5, 10, 10.5]}}}},
            {"mark": {"type": "point", "opacity": 0},
             "encoding": {
               "x": {"field": "N", "type": "quantitative", "scale": {"domain": [80, 254], "nice": false, "zero": false}, "axis": {"orient": "bottom", "domain": false, "ticks": false, "labels": false, "title": "max", "titleFontSize": 12, "titleAlign": "left", "titleBaseline": "alphabetic", "titleX": 45.2, "titleY": 38.5}},
               "y": {"field": "d", "type": "quantitative", "scale": {"domain": [6.53, 10.68], "nice": false, "zero": false}, "axis": {"orient": "left", "domain": false, "ticks": false, "labels": false, "title": "RoI", "titleFontSize": 12, "titleAngle": 0, "titleAlign": "left", "titleBaseline": "alphabetic", "titleX": -47.6, "titleY": 52.5}}}}
          ],
          "resolve": {"axis": {"x": "independent", "y": "independent"}}
        },
        {
          "width": 103.3, "height": 109.3,
          "data": {"name": "pts"},
          "layer": [
            {"mark": {"type": "point", "filled": true, "opacity": 1, "stroke": "white", "strokeWidth": 0.6},
             "encoding": {
               "x": {"field": "t", "type": "quantitative", "scale": {"domain": [4.57, 10.85], "nice": false, "zero": false}, "axis": {"orient": "bottom", "domain": true, "ticks": false, "values": [5, 10], "labelExpr": "'' + datum.value", "labelFontSize": 15.5, "labelBaseline": "top", "labelPadding": 2, "title": "t", "titleFontStyle": "italic", "titleFontSize": 18, "titleAlign": "right", "titleBaseline": "alphabetic", "titleX": 42, "titleY": 37}},
               "y": {"field": "d", "type": "quantitative", "scale": {"domain": [6.53, 10.68], "nice": false, "zero": false}, "axis": {"orient": "left", "title": null, "labels": false, "ticks": false, "domain": true}},
               "color": {"field": "g", "type": "nominal", "scale": {"domain": ["1 d", "17 d", "35 d", "38 d"], "range": ["#4c72b0", "#dd8452", "#55a868", "#c44e52"]}},
               "shape": {"field": "g", "type": "nominal", "scale": {"domain": ["1 d", "17 d", "35 d", "38 d"], "range": ["circle", "square", "diamond", "triangle-down"]}},
               "size": {"field": "g", "type": "nominal", "scale": {"type": "ordinal", "domain": ["38 d", "17 d", "35 d", "1 d"], "range": [42, 60, 80, 45]}, "legend": null}}},
            {"mark": {"type": "point", "opacity": 0},
             "encoding": {
               "x": {"field": "t", "type": "quantitative", "scale": {"domain": [4.57, 10.85], "nice": false, "zero": false}, "axis": {"orient": "top", "title": null, "labels": false, "domain": false, "ticks": true, "tickSize": -3, "values": [5, 6, 7, 8, 9, 10]}},
               "y": {"field": "d", "type": "quantitative", "scale": {"domain": [6.53, 10.68], "nice": false, "zero": false}, "axis": {"orient": "right", "title": null, "labels": false, "domain": false, "ticks": true, "tickSize": -3, "values": [7, 7.5, 8, 8.5, 9, 9.5, 10, 10.5]}}}},
            {"mark": {"type": "point", "opacity": 0},
             "encoding": {
               "x": {"field": "t", "type": "quantitative", "scale": {"domain": [4.57, 10.85], "nice": false, "zero": false}, "axis": {"orient": "bottom", "domain": false, "ticks": false, "labels": false, "title": "max", "titleFontSize": 12, "titleAlign": "left", "titleBaseline": "alphabetic", "titleX": 42, "titleY": 38.5}},
               "y": {"field": "d", "type": "quantitative", "scale": {"domain": [6.53, 10.68], "nice": false, "zero": false}, "axis": null}}}
          ],
          "resolve": {"axis": {"x": "independent", "y": "independent"}}
        },
        {
          "width": 103.3, "height": 109.3,
          "data": {"name": "kde"},
          "transform": [{"filter": "datum.v == 'd'"}],
          "layer": [
            {"mark": {"type": "area", "fillOpacity": 0.25, "interpolate": "monotone"},
             "encoding": {
               "x": {"field": "x", "type": "quantitative", "scale": {"domain": [5.8, 11.6], "nice": false, "zero": false}, "axis": {"orient": "bottom", "domain": true, "ticks": false, "values": [7.5, 10], "labelExpr": "format(datum.value, '.1f')", "labelFontSize": 15.5, "labelBaseline": "top", "labelPadding": 2, "title": "d", "titleFontStyle": "italic", "titleFontSize": 18, "titleAlign": "right", "titleBaseline": "alphabetic", "titleX": 47.6, "titleY": 37}},
               "y": {"field": "h", "type": "quantitative", "stack": null, "scale": {"domain": [0, 109.3], "nice": false}, "axis": {"orient": "left", "title": null, "labels": false, "ticks": false, "domain": true}},
               "fill": {"field": "g", "type": "nominal", "scale": {"domain": ["38 d", "35 d", "17 d", "1 d"], "range": ["#c44e52", "#55a868", "#dd8452", "#4c72b0"]}, "legend": null}}},
            {"mark": {"type": "line", "strokeWidth": 1.5, "interpolate": "monotone"},
             "encoding": {
               "x": {"field": "x", "type": "quantitative", "scale": {"domain": [5.8, 11.6], "nice": false, "zero": false}, "axis": null},
               "y": {"field": "h", "type": "quantitative", "scale": {"domain": [0, 109.3], "nice": false}, "axis": null},
               "stroke": {"field": "g", "type": "nominal", "scale": {"domain": ["38 d", "35 d", "17 d", "1 d"], "range": ["#c44e52", "#55a868", "#dd8452", "#4c72b0"]}, "legend": null}}},
            {"mark": {"type": "point", "opacity": 0},
             "encoding": {
               "x": {"field": "x", "type": "quantitative", "scale": {"domain": [5.8, 11.6], "nice": false, "zero": false}, "axis": {"orient": "top", "title": null, "labels": false, "domain": false, "ticks": true, "tickSize": -3, "values": [6, 6.5, 7, 7.5, 8, 8.5, 9, 9.5, 10, 10.5, 11, 11.5]}},
               "y": {"field": "h", "type": "quantitative", "scale": {"domain": [0, 109.3], "nice": false}, "axis": null}}},
            {"mark": {"type": "point", "opacity": 0},
             "encoding": {
               "x": {"field": "x", "type": "quantitative", "scale": {"domain": [5.8, 11.6], "nice": false, "zero": false}, "axis": {"orient": "bottom", "domain": false, "ticks": false, "labels": false, "title": "RoI", "titleFontSize": 12, "titleAlign": "left", "titleBaseline": "alphabetic", "titleX": 47.6, "titleY": 38.5}},
               "y": {"field": "h", "type": "quantitative", "scale": {"domain": [0, 109.3], "nice": false}, "axis": null}}}
          ],
          "resolve": {"axis": {"x": "independent"}}
        }
      ]
    }
  ]
}
